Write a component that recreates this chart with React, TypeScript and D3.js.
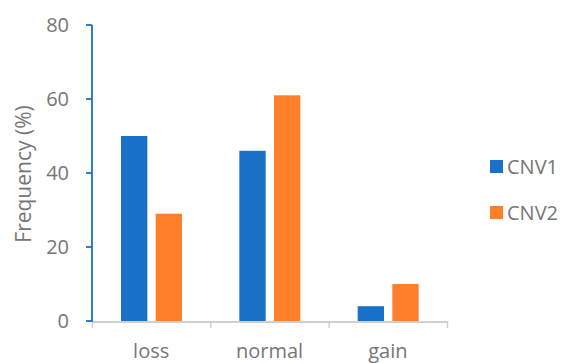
import React from "react";
import * as d3 from "d3";

const categories = ["loss", "normal", "gain"];
const seriesNames = ["CNV1", "CNV2"];
const cnv1 = [50, 46, 4];
const cnv2 = [29, 61, 10];
const yTicks = [0, 20, 40, 60, 80];

const colors = ["#1A72C8", "#FE7F2A"];
const font = "'Open Sans', 'Noto Sans', sans-serif";

export default function App() {
  const W = 565, H = 363;
  const x0 = 92, x1 = 447, yTop = 25, yBot = 321;
  const x = d3.scaleBand<string>().domain(categories).range([x0, x1]);
  const y = d3.scaleLinear().domain([0, 80]).range([yBot, yTop]);
  const inner = d3.scaleBand<string>().domain(seriesNames).range([29, 90]).paddingInner(0.24);
  const series = [cnv1, cnv2];
  return (
    <svg width={W} height={H} style={{ position: "absolute", left: 0, top: 0 }}>
      <rect width={W} height={H} fill="white" />
      {series.map((vals, si) =>
        vals.map((v, ci) => (
          <rect
            key={`${si}-${ci}`}
            x={(x(categories[ci]) as number) + (inner(seriesNames[si]) as number)}
            y={y(v)}
            width={inner.bandwidth()}
            height={yBot - y(v)}
            fill={colors[si]}
          />
        ))
      )}
      {/* x axis */}
      <line x1={x0} x2={x1 + 1} y1={yBot + 1} y2={yBot + 1} stroke="#D0D0D0" strokeWidth={2} />
      {[...categories.map((c) => x(c) as number), x1].map((t, i) => (
        <line key={i} x1={t + 0.5} x2={t + 0.5} y1={yBot} y2={yBot + 7} stroke="#D0D0D0" strokeWidth={1.5} />
      ))}
      {categories.map((c) => (
        <text
          key={c}
          x={(x(c) as number) + x.bandwidth() / 2}
          y={358}
          textAnchor="middle"
          fontFamily={font}
          fontSize={20}
          fill="#767676"
        >
          {c}
        </text>
      ))}
      {/* y axis */}
      <line x1={x0} x2={x0} y1={yTop} y2={yBot + 1} stroke="#1A72C8" strokeWidth={1.8} />
      {yTicks.map((t) => (
        <g key={t}>
          <line x1={x0 - 6} x2={x0} y1={y(t)} y2={y(t)} stroke="#1A72C8" strokeWidth={1.8} />
          <text
            x={69}
            y={y(t)}
            dy="0.35em"
            textAnchor="end"
            fontFamily={font}
            fontSize={20}
            fill="#767676"
          >
            {t}
          </text>
        </g>
      ))}
      <text
        transform={`translate(31, ${(yTop + yBot) / 2 + 1}) rotate(-90)`}
        textAnchor="middle"
        fontFamily={font}
        fontSize={21}
        fill="#767676"
      >
        Frequency (%)
      </text>
      {/* legend */}
      {seriesNames.map((s, i) => (
        <g key={s} transform={`translate(490, ${160 + i * 46})`}>
          <rect width={13} height={13} fill={colors[i]} />
          <text x={17} y={7} dy="0.36em" fontFamily={font} fontSize={20} fill="#767676">
            {s}
          </text>
        </g>
      ))}
    </svg>
  );
}
